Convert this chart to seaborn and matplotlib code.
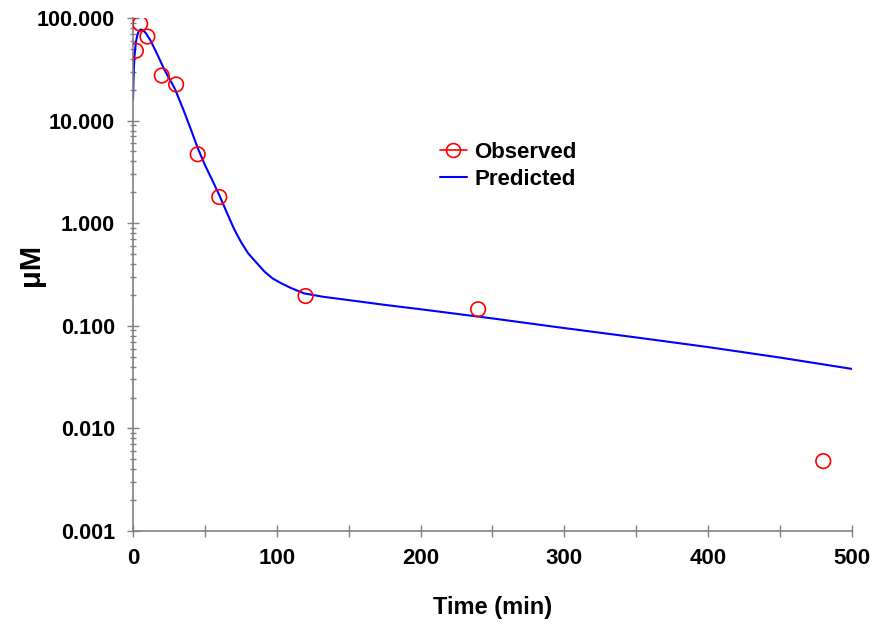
import matplotlib
matplotlib.use("Agg")
import matplotlib.pyplot as plt
import matplotlib.ticker as mticker
from matplotlib.lines import Line2D
import seaborn as sns
import pandas as pd

# Observed data
obs_time = [2, 5, 10, 20, 30, 45, 60, 120, 240, 480]
obs_conc = [48, 88, 66, 27.5, 22.5, 4.7, 1.8, 0.195, 0.145, 0.0048]

# Predicted curve
pred_time = [0, 0.5, 1, 2, 3, 4, 5, 6, 7, 9, 12, 16, 22, 29, 35, 40, 45, 50, 55, 60,
             66, 70.6, 75, 80, 86, 91.5, 97, 103, 110, 119, 132, 150, 175, 200, 250,
             300, 350, 400, 450, 500]
pred_conc = [16, 30, 42, 58, 68, 74, 77, 77, 76, 71, 61, 47, 31, 20.6, 12.8, 8.4, 5.4,
             3.7, 2.65, 1.88, 1.2, 0.86, 0.66, 0.51, 0.41, 0.337, 0.29, 0.26, 0.233,
             0.207, 0.192, 0.178, 0.16, 0.145, 0.118, 0.095, 0.077, 0.062, 0.049, 0.038]

x_ticks = [0, 100, 200, 300, 400, 500]
y_ticks = [0.001, 0.01, 0.1, 1, 10, 100]

sns.set_style("white")
plt.rcParams['font.family'] = ['Liberation Sans', 'DejaVu Sans']
plt.rcParams['font.weight'] = 'bold'
plt.rcParams['text.color'] = 'black'
plt.rcParams['axes.labelcolor'] = 'black'

fig = plt.figure(figsize=(8.79, 6.33), dpi=100)
ax = fig.add_axes([133 / 879, 1 - 531 / 633, 719 / 879, 513 / 633])

obs_df = pd.DataFrame({"t": obs_time, "c": obs_conc})
pred_df = pd.DataFrame({"t": pred_time, "c": pred_conc})

sns.lineplot(data=pred_df, x="t", y="c", color="#0000FF", linewidth=1.5, ax=ax,
             estimator=None, sort=False, zorder=2)
sns.scatterplot(data=obs_df, x="t", y="c", ax=ax, marker="o", s=110,
                facecolor="none", edgecolor="#FF0000", linewidth=1.2, zorder=3)

ax.set_yscale("log")
ax.set_xlim(0, 500)
ax.set_ylim(0.001, 100)
ax.set_xticks(x_ticks)
ax.xaxis.set_minor_locator(mticker.MultipleLocator(50))
ax.set_yticks(y_ticks)
ax.yaxis.set_major_formatter(mticker.FuncFormatter(lambda v, p: f"{v:.3f}"))
ax.yaxis.set_minor_locator(mticker.LogLocator(base=10, subs=range(2, 10), numticks=20))
ax.yaxis.set_minor_formatter(mticker.NullFormatter())

for s in ["top", "right"]:
    ax.spines[s].set_visible(False)
for s in ["left", "bottom"]:
    ax.spines[s].set_color("#808080")
    ax.spines[s].set_linewidth(1.2)

ax.tick_params(axis="both", which="major", direction="inout", length=9, width=1,
               color="#808080", labelcolor="black")
ax.tick_params(axis="x", which="major", pad=7.5, labelsize=16)
ax.tick_params(axis="y", which="major", pad=8.5, labelsize=15.5)
ax.tick_params(axis="x", which="minor", direction="inout", length=9, width=1, color="#808080")
ax.tick_params(axis="y", which="minor", direction="inout", length=5, width=1, color="#808080")
ax.tick_params(bottom=True, left=True, which="both")
for lab in ax.get_xticklabels() + ax.get_yticklabels():
    lab.set_fontweight("bold")

ax.set_xlabel("Time (min)", fontsize=17, fontweight="bold", labelpad=20, color="black")
ax.set_ylabel("μM", fontsize=21, fontweight="bold", color="black")
ax.yaxis.set_label_coords(-0.122, 0.518)

handles = [
    Line2D([0], [0], color="#FF0000", linewidth=1.2, marker="o", markersize=10,
           markerfacecolor="none", markeredgecolor="#FF0000", markeredgewidth=1.2),
    Line2D([0], [0], color="#0000FF", linewidth=1.5),
]
leg = ax.legend(handles, ["Observed", "Predicted"], loc="upper left",
                bbox_to_anchor=(440 / 879, 1 - 142 / 633), bbox_transform=fig.transFigure,
                frameon=False, prop={"size": 16, "weight": "bold"}, handlelength=1.2,
                handletextpad=0.35, labelspacing=0.28, borderpad=0, borderaxespad=0)
for txt in leg.get_texts():
    txt.set_color("black")

fig.savefig("out.png", dpi=100)
